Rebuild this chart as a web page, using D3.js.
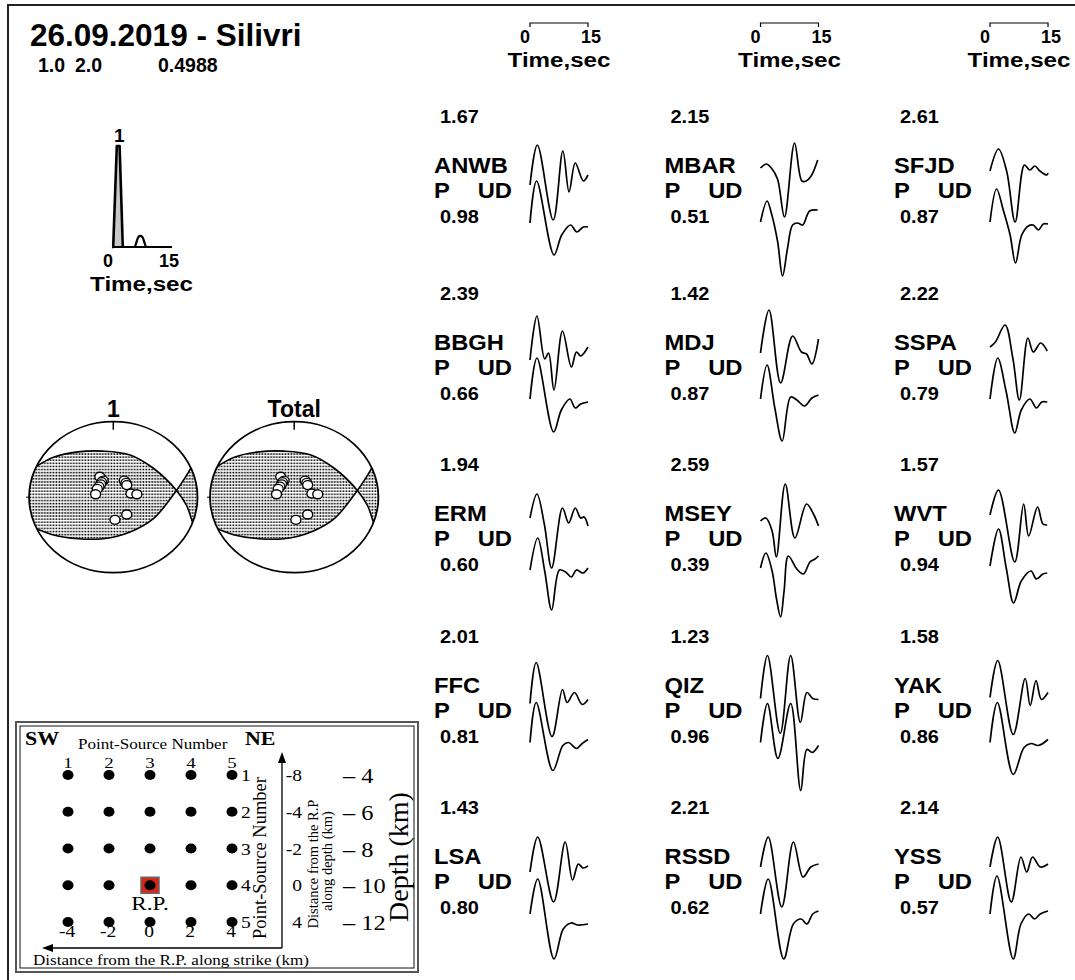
<!DOCTYPE html>
<html>
<head>
<meta charset="utf-8">
<script src="https://cdn.jsdelivr.net/npm/d3@7"></script>
<style>
  body { margin: 0; background: #fff; }
  svg { display: block; }
</style>
</head>
<body>
<svg id="chart" width="1075" height="980"></svg>
<script>
// ---- data ----
const eventTitle = "26.09.2019 - Silivri";
const headerValues = ["1.0", "2.0", "0.4988"];

// source time function (s, relative moment rate)
const stfTime = [0, 0.3, 1.2, 1.9, 2.7, 5.6, 6.6, 7.1, 7.6, 8.6, 15];
const stfRate = [0, 0, 1, 1, 0, 0, 0.1, 0.11, 0.1, 0, 0];

// focal mechanism: nodal plane traces (unit stereonet, x east, y north)
const nodalX = [-1.08, -0.93, -0.71, -0.42, -0.12, 0.20, 0.48, 0.75, 0.87, 0.94, 1.08];
const planeA = [0.31, 0.40, 0.53, 0.60, 0.61, 0.56, 0.38, 0.09, -0.11, -0.33, -0.80];
const planeB = [-0.35, -0.41, -0.50, -0.55, -0.55, -0.46, -0.28, 0.09, 0.29, 0.42, 0.70];
const polarityX = [-0.16, -0.12, -0.14, -0.15, -0.17, -0.19, -0.21, 0.13, 0.15, 0.16, 0.21, 0.28, 0.16, 0.02];
const polarityY = [0.27, 0.22, 0.20, 0.17, 0.14, 0.11, 0.04, 0.22, 0.19, 0.16, 0.05, 0.04, -0.23, -0.30];
const ballLabels = ["1", "Total"];

// stations (row by row)
const stations = ["ANWB", "MBAR", "SFJD", "BBGH", "MDJ", "SSPA", "ERM", "MSEY", "WVT",
                  "FFC", "QIZ", "YAK", "LSA", "RSSD", "YSS"];
const maxAmp = ["1.67", "2.15", "2.61", "2.39", "1.42", "2.22", "1.94", "2.59", "1.57",
                "2.01", "1.23", "1.58", "1.43", "2.21", "2.14"];
const varRed = ["0.98", "0.51", "0.87", "0.66", "0.87", "0.79", "0.60", "0.39", "0.94",
                "0.81", "0.96", "0.86", "0.80", "0.62", "0.57"];

// waveforms: [time s, amplitude]
const upperTraces = [
  [[0,-0.4],[1.9,3.6],[6,-3.9],[8.5,3],[10.1,-1.1],[11.7,1.8],[13.8,0],[15,0.6]],
  [[0,1.3],[1.5,1.7],[2.8,1.3],[4.4,0.2],[6.2,-3.6],[8.8,3.8],[10.7,0],[11.8,0],[13.1,0.5],[14.8,2.1]],
  [[0,1],[2.2,3.2],[4.3,1],[6.5,-4.1],[8.9,1.6],[10.3,1.1],[11.6,1.5],[12.9,1],[14.7,0.6],[15,0.8]],
  [[0,-0.2],[1.8,4.2],[3.8,-0.1],[4.8,0.5],[6.2,-3.2],[8.4,2.7],[10.7,-0.9],[12,0.6],[13.1,0.2],[15,1.1]],
  [[0,0.5],[2.2,4.8],[5.2,-2.5],[8.3,2.2],[10.6,0.6],[11.9,0.4],[13.3,-0.6],[15,1.9]],
  [[0,1.1],[1.4,1.6],[3.9,3.3],[5.9,0],[7.6,-4.2],[9.8,2],[11.2,0.6],[13.1,1.5],[14.8,0.7]],
  [[0,1.1],[1.8,3.5],[3.7,0.5],[5.6,-3.9],[8.4,2.1],[10,0.6],[11.7,2.1],[13.1,1.1],[14,1.2],[15,0.3]],
  [[0,0.8],[1.4,1.1],[3,-0.2],[4.1,-2.8],[6.4,4.5],[8.9,-0.9],[11.9,2.5],[13.7,1.5],[15,0.3]],
  [[0,1.4],[2.2,3.9],[6.4,-3.3],[8.7,2.5],[10,-0.7],[12.3,2.2],[13.7,0.5],[14.8,0.4]],
  [[0,-0.3],[1.6,3.8],[5.7,-3.6],[8.4,1.1],[9.6,-0.2],[11.5,0.8],[13.5,-0.4],[15,0.1]],
  [[0,0.2],[1.8,4.5],[5.1,-3.3],[7.8,4.5],[10.3,-2.2],[12,0.8],[13.5,0.2],[15,0.1]],
  [[0,0.3],[2,4],[6,-3.4],[9.1,2.2],[10.4,-0.5],[11.9,2],[13.3,0.1],[15,0.8]],
  [[0,0],[2,3.5],[6.1,-3],[9.1,3],[11,-0.8],[12.5,0.8],[13.7,0.4],[15,0.6]],
  [[0,0.5],[2,3.5],[5.5,-3.5],[8.5,3],[11,-0.5],[13,0.5],[15,0.8]],
  [[0,0.5],[2,3.5],[5.5,-3],[8,1.5],[9.5,0],[11,1.5],[13,0.5],[15,0.8]]
];
const lowerTraces = [
  [[0,0],[1.7,4.2],[6.2,-3.2],[8.2,-1.2],[10.5,-0.2],[12.1,-0.9],[13.8,-0.4],[15,-0.4]],
  [[0,0.1],[1.7,2.2],[2.8,1.0],[4.4,-1.8],[5.7,-5.3],[7,-2.5],[8.3,-0.2],[9.6,0],[10.9,-0.2],[12.7,1.2],[14.8,1.3]],
  [[0,0.1],[1.7,3.4],[3.5,1.2],[5.2,-1.2],[6.6,-4],[8.2,-1.2],[9.9,-0.3],[11.2,-0.2],[12.5,-0.7],[13.8,-0.1],[15,-0.1]],
  [[0,0.1],[1.8,4.2],[6.1,-3.2],[8.1,-1],[10.3,0.1],[11.7,-0.8],[13.1,-0.4],[15,-0.2]],
  [[0,0.1],[1.7,3.5],[3.7,-0.8],[5.6,-4.1],[7.8,0.3],[9.4,0],[11.4,-0.6],[13.3,0.2],[15,0.5]],
  [[0,0.1],[2,4.2],[4.2,0.8],[6.4,-3.3],[8.1,-1],[10.3,0.1],[12,-0.8],[13.4,-0.2],[14.8,-0.2]],
  [[0,0.1],[2,3.3],[3.8,0],[5.6,-3.9],[7.6,0.1],[9.2,-0.1],[10.7,-0.6],[12,0.1],[13.7,-0.2],[15,0.3]],
  [[0,0.3],[1.4,1.8],[3,0],[4.1,-2.7],[5.2,-4.6],[6.1,-2],[7.2,1.5],[9.4,0.2],[11.1,-0.3],[12.8,0.9],[14.1,1.2],[15,1.5]],
  [[0,0.5],[2.2,4.2],[4.2,0.3],[6.1,-3.2],[8.1,-1],[10.6,0],[12,-0.8],[13.7,-0.3],[14.8,-0.2]],
  [[0,0],[1.6,4],[5.9,-2.8],[8.5,-0.3],[10,0],[12,-0.6],[13.5,-0.1],[15,0.3]],
  [[0,0],[1.8,3.9],[4.5,-1.6],[7.8,3.9],[10.4,-4.8],[12,-0.7],[13.4,-1],[15,-0.3]],
  [[0,0],[1.9,4],[6,-3.2],[8.8,-0.5],[10.6,-0.1],[12.5,-0.3],[15,0.3]],
  [[0,0],[2,3.5],[6.2,-4.5],[8.6,-1.5],[10.6,-0.9],[12.4,-1.1],[15,-1]],
  [[0,0],[2,3.5],[6,-4.5],[8.5,-1],[10.5,-0.5],[12,-1],[13.5,0],[15,0.3]],
  [[0,0],[1.8,3.8],[6,-4.5],[8,-1],[10,0],[11.5,-0.5],[13,0],[15,0.3]]
];

// point-source grid panel
const sourceCols = [1, 2, 3, 4, 5];
const sourceRows = [1, 2, 3, 4, 5];
const alongStrike = ["-4", "-2", "0", "2", "4"];
const alongDepth = ["-8", "-4", "-2", "0", "4"];
const depthKm = ["4", "6", "8", "10", "12"];
const refPoint = { col: 3, row: 4 };

// ---- drawing ----
const svg = d3.select("#chart");
const sans = "'Liberation Sans', Arial, Helvetica, sans-serif";
const serif = "'Liberation Serif', 'Times New Roman', serif";

function label(g, x, y, s, size, o = {}) {
  return g.append("text")
    .attr("transform", `translate(${x},${y}) scale(${o.sx ?? 1},1)`)
    .attr("text-anchor", o.anchor || "start")
    .attr("font-family", o.serif ? serif : sans)
    .attr("font-weight", o.weight || (o.serif ? "normal" : "bold"))
    .attr("font-size", size)
    .attr("fill", "#000")
    .text(s);
}
function vlabel(g, x, y, s, size) {
  return g.append("text")
    .attr("transform", `translate(${x},${y}) rotate(-90)`)
    .attr("text-anchor", "middle")
    .attr("font-family", serif)
    .attr("font-size", size)
    .text(s);
}
const PS = 1.22; // stretch used for the serif panel labels

// outer frame
svg.append("path")
  .attr("d", "M8,980 V5 H1075")
  .attr("fill", "none").attr("stroke", "#222").attr("stroke-width", 2);

// header
label(svg, 30, 46, eventTitle, 31.5);
[38, 75, 158].forEach((x, i) => label(svg, x, 72, headerValues[i], 19.5));

// source time function
const stf = svg.append("g");
const stfX = d3.scaleLinear().domain([0, 15]).range([112, 172]);
const stfY = d3.scaleLinear().domain([0, 1]).range([247, 146]);
const stfPts = stfTime.map((t, i) => [t, stfRate[i]]);
stf.append("path")
  .datum(stfPts.slice(0, 5))
  .attr("d", d3.area().x(d => stfX(d[0])).y0(stfY(0)).y1(d => stfY(d[1])))
  .attr("fill", "#c8c8c8");
stf.append("path")
  .datum(stfPts.slice(0, 5))
  .attr("d", d3.line().x(d => stfX(d[0])).y(d => stfY(d[1])))
  .attr("fill", "none").attr("stroke", "#000").attr("stroke-width", 2.6)
  .attr("stroke-linejoin", "round");
stf.append("path")
  .datum(stfPts.slice(4))
  .attr("d", d3.line().x(d => stfX(d[0])).y(d => stfY(d[1])).curve(d3.curveMonotoneX))
  .attr("fill", "none").attr("stroke", "#000").attr("stroke-width", 2.2);
stf.append("line")
  .attr("x1", stfX(0)).attr("x2", stfX(15)).attr("y1", stfY(0)).attr("y2", stfY(0))
  .attr("stroke", "#000").attr("stroke-width", 2.2);
label(stf, stfX(1.6) + 1, 142, "1", 19, { anchor: "middle" });
label(stf, stfX(0) - 4, 267, "0", 18, { anchor: "middle" });
label(stf, stfX(15) - 3, 267, "15", 18, { anchor: "middle" });
label(stf, 141.5, 291, "Time,sec", 21, { anchor: "middle", sx: 1.15 });

// beach balls
const defs = svg.append("defs");
const pat = defs.append("pattern").attr("id", "stip")
  .attr("patternUnits", "userSpaceOnUse").attr("width", 2.9).attr("height", 3.1);
pat.append("rect").attr("width", 2.9).attr("height", 3.1).attr("fill", "#fff");
pat.append("rect").attr("x", 0.5).attr("y", 0.6).attr("width", 1.7).attr("height", 1.6).attr("fill", "#000");

const balls = [{ cx: 113.3, label: ballLabels[0] }, { cx: 294.2, label: ballLabels[1] }];
const ballCY = 497.2, ballRX = 84.2, ballRY = 75.5;
const nodal = nodalX.map((x, i) => ({ x, a: planeA[i], b: planeB[i] }));
balls.forEach((b, bi) => {
  const g = svg.append("g");
  const bx = d3.scaleLinear().domain([-1, 1]).range([b.cx - ballRX, b.cx + ballRX]);
  const by = d3.scaleLinear().domain([-1, 1]).range([ballCY + ballRY, ballCY - ballRY]);
  const clipId = "ballclip" + bi;
  defs.append("clipPath").attr("id", clipId)
    .append("ellipse").attr("cx", b.cx).attr("cy", ballCY).attr("rx", ballRX).attr("ry", ballRY);
  const inner = g.append("g").attr("clip-path", `url(#${clipId})`);
  inner.append("path")
    .datum(nodal)
    .attr("d", d3.area().x(d => bx(d.x)).y0(d => by(d.a)).y1(d => by(d.b)).curve(d3.curveCatmullRom))
    .attr("fill", "url(#stip)");
  ["a", "b"].forEach(k => {
    inner.append("path")
      .datum(nodal)
      .attr("d", d3.line().x(d => bx(d.x)).y(d => by(d[k])).curve(d3.curveCatmullRom))
      .attr("fill", "none").attr("stroke", "#000").attr("stroke-width", 1.6);
  });
  g.append("ellipse")
    .attr("cx", b.cx).attr("cy", ballCY).attr("rx", ballRX).attr("ry", ballRY)
    .attr("fill", "none").attr("stroke", "#000").attr("stroke-width", 1.8);
  g.append("line").attr("x1", b.cx).attr("x2", b.cx).attr("y1", by(1)).attr("y2", by(1) + 8)
    .attr("stroke", "#000").attr("stroke-width", 1.5);
  g.append("line").attr("x1", bx(-1) - 3).attr("x2", bx(-1)).attr("y1", ballCY).attr("y2", ballCY)
    .attr("stroke", "#000").attr("stroke-width", 1);
  g.selectAll("ellipse.pol")
    .data(polarityX.map((x, i) => [x, polarityY[i]]))
    .join("ellipse").attr("class", "pol")
    .attr("cx", d => bx(d[0])).attr("cy", d => by(d[1]))
    .attr("rx", 5).attr("ry", 4.5)
    .attr("fill", "#fff").attr("stroke", "#000").attr("stroke-width", 1.4);
  label(g, b.cx, 417, b.label, 23, { anchor: "middle" });
});

// waveform panels
const colX = [434, 664.5, 894];
const rowY = [123, 300, 471, 642.5, 814];
colX.forEach(x0 => {
  const tx = d3.scaleLinear().domain([0, 15]).range([x0 + 96, x0 + 154]);
  svg.append("path")
    .attr("d", `M${tx(0)},27 V23 H${tx(15)} V27`)
    .attr("fill", "none").attr("stroke", "#000").attr("stroke-width", 1.2);
  label(svg, tx(0) - 5, 43, "0", 18, { anchor: "middle" });
  label(svg, tx(15) + 3, 43, "15", 18, { anchor: "middle" });
  label(svg, tx(7.5), 67, "Time,sec", 21, { anchor: "middle", sx: 1.15 });
});

const waveLine = (tx, ty) => d3.line().x(d => tx(d[0])).y(d => ty(d[1])).curve(d3.curveCatmullRom);
stations.forEach((name, i) => {
  const x0 = colX[i % 3], y0 = rowY[Math.floor(i / 3)];
  const g = svg.append("g");
  label(g, x0 + 6, y0, maxAmp[i], 19, { sx: 1.05 });
  label(g, x0, y0 + 50, name, 22, { sx: 1.08 });
  label(g, x0, y0 + 75, "P", 22, { sx: 1.08 });
  label(g, x0 + 78, y0 + 75, "UD", 22, { anchor: "end", sx: 1.08 });
  label(g, x0 + 6, y0 + 100, varRed[i], 19, { sx: 1.05 });
  const tx = d3.scaleLinear().domain([0, 15]).range([x0 + 96, x0 + 154]);
  const tyU = d3.scaleLinear().domain([-5, 5]).range([y0 + 108, y0 + 8]);
  const tyL = d3.scaleLinear().domain([-5, 5]).range([y0 + 150, y0 + 50]);
  [[upperTraces[i], tyU], [lowerTraces[i], tyL]].forEach(([tr, ty]) => {
    g.append("path").datum(tr)
      .attr("d", waveLine(tx, ty))
      .attr("fill", "none").attr("stroke", "#000").attr("stroke-width", 1.7)
      .attr("stroke-linejoin", "round");
  });
});

// point-source grid panel
const pg = svg.append("g");
pg.append("rect").attr("x", 16).attr("y", 722).attr("width", 402).attr("height", 250)
  .attr("fill", "#fff").attr("stroke", "#555").attr("stroke-width", 2);
pg.append("rect").attr("x", 20).attr("y", 726).attr("width", 394).attr("height", 242)
  .attr("fill", "none").attr("stroke", "#111").attr("stroke-width", 1);

const gx = d3.scalePoint().domain(sourceCols).range([68, 232]);
const gy = d3.scalePoint().domain(sourceRows).range([775, 922]);

label(pg, 25, 745, "SW", 18, { serif: true, weight: "bold", sx: PS });
label(pg, 245, 745, "NE", 18, { serif: true, weight: "bold", sx: PS });
label(pg, 78, 749, "Point-Source Number", 14, { serif: true, sx: PS });
sourceCols.forEach(c => label(pg, gx(c), 768, String(c), 15.5, { serif: true, anchor: "middle", sx: PS }));
sourceRows.forEach(r => label(pg, 241, gy(r) + 6, String(r), 16, { serif: true, sx: PS }));
sourceCols.forEach((c, i) => label(pg, gx(c) - 1, 937, alongStrike[i], 16, { serif: true, anchor: "middle", sx: PS }));

// reference point marker
pg.append("rect")
  .attr("x", gx(refPoint.col) - 9).attr("y", gy(refPoint.row) - 8).attr("width", 18).attr("height", 16)
  .attr("fill", "#d7261b").attr("stroke", "#666").attr("stroke-width", 1.5);

const cells = [];
sourceRows.forEach(r => sourceCols.forEach(c => cells.push({ r, c })));
pg.selectAll("ellipse.src").data(cells).join("ellipse").attr("class", "src")
  .attr("cx", d => gx(d.c)).attr("cy", d => gy(d.r))
  .attr("rx", 5.5).attr("ry", 5).attr("fill", "#000");
label(pg, gx(refPoint.col), 910, "R.P.", 19, { serif: true, anchor: "middle", sx: PS });

// axes arrows
pg.append("path").attr("d", "M282,948 H50 M282,948 V760")
  .attr("fill", "none").attr("stroke", "#000").attr("stroke-width", 1.3);
pg.append("path").attr("d", "M42,948 L53,944 L53,952 Z").attr("fill", "#000");
pg.append("path").attr("d", "M282,752 L278,763 L286,763 Z").attr("fill", "#000");

vlabel(pg, 266, 858, "Point-Source Number", 18.5);
sourceRows.forEach((r, i) => label(pg, 302, gy(r) + 6, alongDepth[i], 16, { serif: true, anchor: "end", sx: PS }));
vlabel(pg, 318, 864, "Distance from the R.P", 14.5);
vlabel(pg, 332, 861, "along depth (km)", 14.5);
sourceRows.forEach((r, i) => label(pg, 343, gy(r) + 8, "\u2013 " + depthKm[i], 20, { serif: true, sx: PS }));
vlabel(pg, 408, 857, "Depth (km)", 28);
label(pg, 33, 965, "Distance from the R.P. along strike (km)", 14, { serif: true, sx: PS });
</script>
</body>
</html>
